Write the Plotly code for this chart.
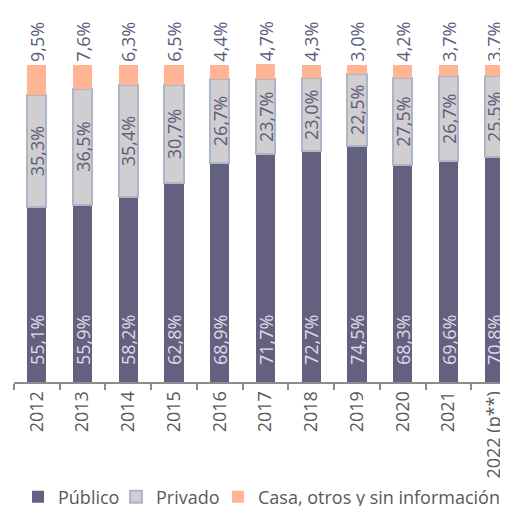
import plotly.graph_objects as go


years = ['2012', '2013', '2014', '2015', '2016', '2017', '2018', '2019', '2020', '2021', '2022 (p**)']
publico = [55.1, 55.9, 58.2, 62.8, 68.9, 71.7, 72.7, 74.5, 68.3, 69.6, 70.8]
privado = [35.3, 36.5, 35.4, 30.7, 26.7, 23.7, 23.0, 22.5, 27.5, 26.7, 25.5]
casa = [9.5, 7.6, 6.3, 6.5, 4.4, 4.7, 4.3, 3.0, 4.2, 3.7, 3.7]

font_family = 'Open Sans'
label_dark = '#5d5c7c'
nbsp = '\u00a0'

# the page body has an 8px margin, so the figure is laid out 8px up/left
W, H = 508, 506
off = 8

fig = go.Figure()

# bottom segment, labels sit a little above the base of the bar
fig.add_trace(go.Bar(
    x=years, y=publico, name='Público', legend='legend',
    marker=dict(color='#64607f', line=dict(width=0)),
    texttemplate=nbsp * 3 + '%{y:.1f}%', textposition='inside', insidetextanchor='start',
    textangle=-90, constraintext='none',
    textfont=dict(family=font_family, size=18, color='#dcdce8'),
))

fig.add_trace(go.Bar(
    x=years, y=privado, name='Privado', legend='legend2',
    marker=dict(color='#d0cece', line=dict(width=2, color='#abb7c9')),
    texttemplate='%{y:.1f}%', textposition='inside', insidetextanchor='middle',
    textangle=-90, constraintext='none',
    textfont=dict(family=font_family, size=18, color=label_dark),
))

fig.add_trace(go.Bar(
    x=years, y=casa, name='Casa, otros y sin información', legend='legend3',
    marker=dict(color='#ffb493', line=dict(width=0)),
    texttemplate='%{y:.1f}%', textposition='outside',
    textangle=-90, constraintext='none', cliponaxis=False,
    textfont=dict(family=font_family, size=18, color=label_dark),
))

# one legend per series so each entry can sit where the original has it
legend_style = dict(
    orientation='h', xref='container', yref='container',
    yanchor='middle', xanchor='left',
    y=(H - (497 - off)) / H,
    font=dict(family=font_family, size=18, color='#595959'),
    itemwidth=30, bgcolor='rgba(0,0,0,0)',
)

fig.update_layout(
    barmode='stack',
    bargap=0.58,
    width=W, height=H,
    margin=dict(l=14 - off, r=off, t=64 - off, b=H - (382 - off), autoexpand=False),
    paper_bgcolor='white', plot_bgcolor='white',
    separators=',.',
    font=dict(family=font_family, size=18, color='#595959'),
    showlegend=True,
    legend=dict(legend_style, x=(18 - off) / W),
    legend2=dict(legend_style, x=(116 - off) / W),
    legend3=dict(legend_style, x=(218 - off) / W),
)

fig.update_xaxes(
    range=[-0.5, 10.3], automargin=False,
    showline=True, linecolor='#8c8c8c', linewidth=2,
    ticks='outside', tickson='boundaries', ticklen=6, tickcolor='#8c8c8c', tickwidth=2,
    tickangle=-90, tickfont=dict(family=font_family, size=18, color='#595959'),
    showgrid=False, zeroline=False,
)
fig.update_yaxes(
    range=[0, 100.2], visible=False, showgrid=False, zeroline=False,
)

fig.write_html("out.html")
